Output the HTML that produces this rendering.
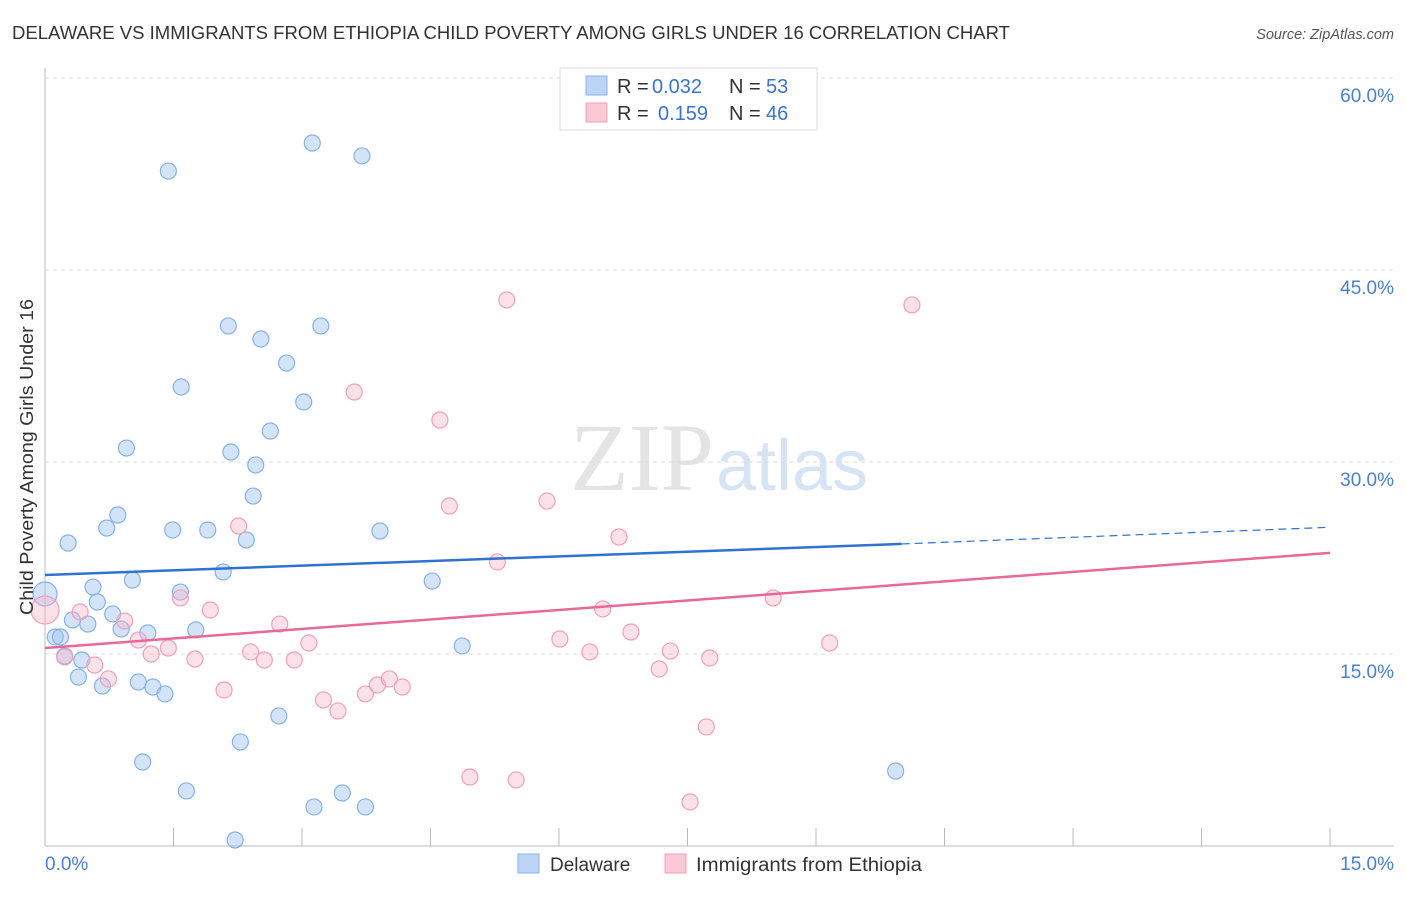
<!DOCTYPE html>
<html><head><meta charset="utf-8"><style>
body{margin:0;background:#fff;font-family:"Liberation Sans",sans-serif;}
</style></head><body>
<svg id="c" width="1406" height="892" xmlns="http://www.w3.org/2000/svg" style="font-family:'Liberation Sans',sans-serif">
<text x="12" y="39" font-size="18" fill="#333" textLength="998" lengthAdjust="spacingAndGlyphs">DELAWARE VS IMMIGRANTS FROM ETHIOPIA CHILD POVERTY AMONG GIRLS UNDER 16 CORRELATION CHART</text>
<text x="1394" y="39" font-size="14.5" fill="#555" text-anchor="end" font-style="italic">Source: ZipAtlas.com</text>
<text x="714" y="490" font-size="96" fill="#e4e4e4" text-anchor="end" font-family="Liberation Serif">ZIP</text>
<text x="716" y="490" font-size="72" fill="#d6e4f4">atlas</text>
<g id="grid"></g><g id="pts"></g><g id="lines"></g>
<text x="33" y="457" font-size="18" fill="#333" text-anchor="middle" textLength="316" lengthAdjust="spacingAndGlyphs" transform="rotate(-90 33 457)">Child Poverty Among Girls Under 16</text>
<text x="45" y="870" font-size="19" fill="#4a7fd0">0.0%</text>
<text x="1394" y="870" font-size="19" fill="#4a7fd0" text-anchor="end">15.0%</text>
<g>
<rect x="560" y="68" width="257" height="62" fill="#fff" stroke="#ddd"/>
<rect x="586" y="76" width="21" height="19" fill="#bcd4f6" stroke="#8ab3ea"/>
<rect x="586" y="103" width="21" height="19" fill="#fbc8d6" stroke="#f0a0b8"/>
<text x="617" y="93" font-size="20" fill="#333">R = <tspan x="652" fill="#3a74d0">0.032</tspan><tspan x="729">N = </tspan><tspan x="766" fill="#3a74d0">53</tspan></text>
<text x="617" y="120" font-size="20" fill="#333">R = <tspan x="658" fill="#3a74d0">0.159</tspan><tspan x="729">N = </tspan><tspan x="766" fill="#3a74d0">46</tspan></text>
</g>
<g>
<rect x="518" y="854" width="21" height="19" fill="#bcd4f6" stroke="#8ab3ea"/>
<text x="550" y="871" font-size="19" fill="#333">Delaware</text>
<rect x="665" y="854" width="21" height="19" fill="#fbc8d6" stroke="#f0a0b8"/>
<text x="696" y="871" font-size="19" fill="#333" textLength="226" lengthAdjust="spacingAndGlyphs">Immigrants from Ethiopia</text>
</g>
</svg>
<script>
const yTicks=[15,30,45,60];
const yTickLabels=["15.0%","30.0%","45.0%","60.0%"];
const blueX=[0,0.12,0.18,0.23,0.27,0.39,0.43,0.50,0.56,0.61,0.67,0.72,0.79,0.85,0.89,0.95,1.02,1.09,1.14,1.20,1.26,1.40,1.44,1.58,1.59,1.65,1.76,1.90,1.49,2.08,2.14,2.17,2.22,2.28,2.35,2.43,2.46,2.52,2.63,2.73,2.82,3.02,3.12,3.14,3.22,3.47,3.70,3.74,3.91,4.52,4.87,9.93,0.32];
const blueY=[19.69,16.33,16.33,14.84,23.67,13.20,14.53,17.34,20.23,19.06,12.50,24.84,18.13,25.86,16.95,31.09,20.78,12.81,6.56,16.64,12.42,11.88,52.73,19.84,35.86,4.30,16.88,24.69,24.69,21.41,40.63,30.78,0.47,8.13,23.91,27.34,29.77,39.61,32.42,10.16,37.73,34.69,54.92,3.05,40.63,4.14,53.91,3.05,24.61,20.70,15.63,5.86,17.66];
const pinkX=[0,0.23,0.41,0.58,0.74,0.93,1.09,1.24,1.44,1.58,1.75,1.93,2.09,2.26,2.40,2.56,2.74,2.91,3.08,3.25,3.42,3.61,3.74,3.88,4.02,4.17,4.61,4.72,4.96,5.28,5.39,5.50,5.86,6.01,6.36,6.51,6.70,6.84,7.17,7.30,7.53,7.72,7.76,8.50,9.16,10.12];
const pinkY=[18.44,14.77,18.28,14.14,13.05,17.58,16.09,15.00,15.47,19.38,14.61,18.44,12.19,25.00,15.16,14.53,17.34,14.53,15.86,11.41,10.55,35.47,11.88,12.58,13.05,12.42,33.28,26.56,5.39,22.19,42.66,5.16,26.95,16.17,15.16,18.52,24.14,16.72,13.83,15.23,3.44,9.30,14.69,19.38,15.86,42.27];
const blueTrend=[21.17,23.6,24.9]; // at x=0, 10, 15
const pinkTrend=[15.47,22.9]; // at x=0, 15
const NS="http://www.w3.org/2000/svg";
const sx=v=>45+v/15*1285, sy=v=>846-v/15*192;
function mk(t,a,p){const e=document.createElementNS(NS,t);for(const k in a)e.setAttribute(k,a[k]);p.appendChild(e);return e;}
const g=document.getElementById('grid');
yTicks.forEach((t,i)=>{
 const l=mk('line',{x1:45,x2:1394,y1:sy(t),y2:sy(t),stroke:'#ddd','stroke-dasharray':'4,4'},g);
 
 
 const tx=mk('text',{x:1394,y:sy(t)+24,'font-size':19,fill:'#4a7fd0','text-anchor':'end'},g);
 tx.textContent=yTickLabels[i];
 
 
});
mk('line',{x1:45,x2:45,y1:68,y2:846,stroke:'#bbb'},g);
mk('line',{x1:45,x2:1394,y1:846,y2:846,stroke:'#bbb'},g);
for(let i=0;i<=10;i++){const t=mk('line',{x1:sx(i*1.5),x2:sx(i*1.5),y1:828,y2:846,stroke:'#bbb'},g);
 
 }
const p=document.getElementById('pts');
blueX.forEach((x,i)=>{const c=mk('circle',{cx:sx(x),cy:sy(blueY[i]),r:i==0?12:8,fill:'rgba(160,196,240,0.45)',stroke:'#86b1e8','stroke-width':1.2},p);
 
 });
pinkX.forEach((x,i)=>{const c=mk('circle',{cx:sx(x),cy:sy(pinkY[i]),r:i==0?14:8,fill:'rgba(248,180,200,0.4)',stroke:'#f0a0b8','stroke-width':1.2},p);
 
 });
const L=document.getElementById('lines');
let a=mk('line',{x1:sx(0),y1:sy(blueTrend[0]),x2:sx(10),y2:sy(blueTrend[1]),stroke:'#2e72d2','stroke-width':2.5},L);


a=mk('line',{x1:sx(10),y1:sy(blueTrend[1]),x2:sx(15),y2:sy(blueTrend[2]),stroke:'#2e72d2','stroke-width':1.2,'stroke-dasharray':'8,5'},L);


a=mk('line',{x1:sx(0),y1:sy(pinkTrend[0]),x2:sx(15),y2:sy(pinkTrend[1]),stroke:'#e8689a','stroke-width':2.5},L);


</script>
</body></html>
